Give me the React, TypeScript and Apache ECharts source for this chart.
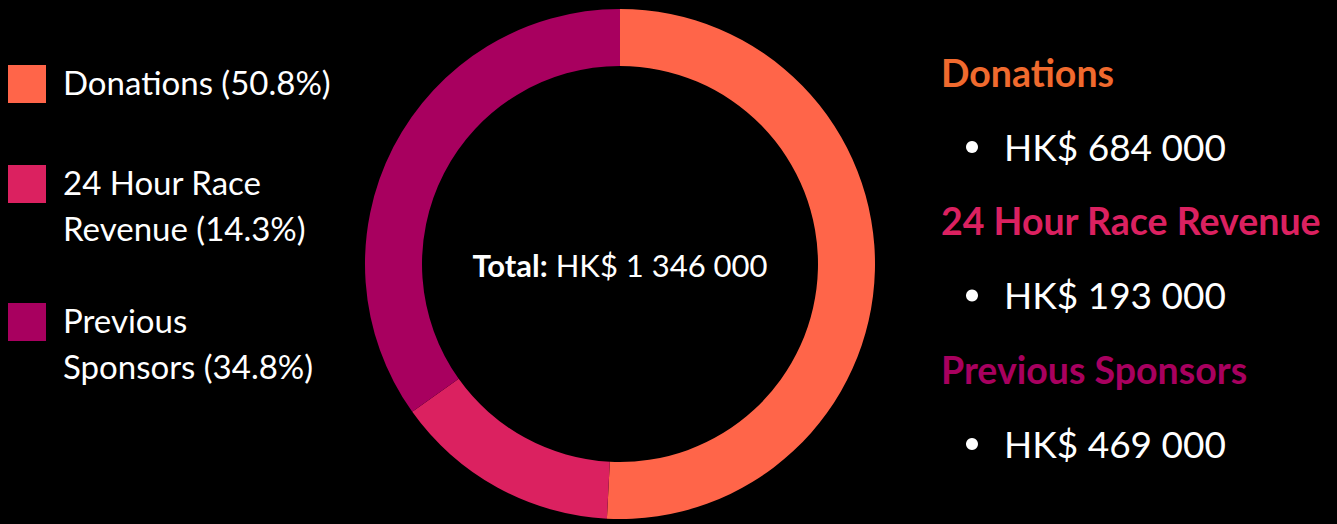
import React, { useEffect, useRef } from "react";
import * as echarts from "echarts";

const categories = ["Donations", "24 Hour Race Revenue", "Previous Sponsors"];
const legendLines = [["Donations (50.8%)"], ["24 Hour Race", "Revenue (14.3%)"], ["Previous", "Sponsors (34.8%)"]];
const values = [684000, 193000, 469000];
const amountLabels = ["HK$ 684 000", "HK$ 193 000", "HK$ 469 000"];
const totalLabel = "HK$ 1 346 000";
const sliceColors = ["#FF6549", "#DB2160", "#A8005F"];
const headingColors = ["#F06A2E", "#DB2160", "#A8005F"];

const FONT = "Lato, 'Noto Sans', sans-serif";

export default function App() {
  const ref = useRef<HTMLDivElement>(null);
  useEffect(() => {
    document.body.style.margin = "0";
    document.body.style.background = "#000";
    const chart = echarts.init(ref.current!, null, { renderer: "svg" });

    const squareCenters = [84, 184, 322];
    const graphics: any[] = [];
    categories.forEach((c, i) => {
      const cy = squareCenters[i];
      graphics.push({
        type: "rect",
        shape: { x: 8, y: cy - 19, width: 38, height: 38 },
        style: { fill: sliceColors[i] },
      });
      legendLines[i].forEach((line, j) => {
        graphics.push({
          type: "text",
          x: 63,
          y: cy - 2 + j * 46,
          style: {
            text: line,
            fill: "#fff",
            font: `400 33px ${FONT}`,
            verticalAlign: "middle",
            textAlign: "left",
          },
        });
      });
      // right side
      const headY = 72 + i * 148.5;
      graphics.push({
        type: "text",
        x: 941,
        y: headY,
        style: {
          text: c,
          fill: headingColors[i],
          font: `700 37.5px ${FONT}`,
          verticalAlign: "middle",
          textAlign: "left",
        },
      });
      graphics.push({
        type: "circle",
        shape: { cx: 972, cy: headY + 75, r: 6 },
        style: { fill: "#fff" },
      });
      graphics.push({
        type: "text",
        x: 1004,
        y: headY + 74,
        style: {
          text: amountLabels[i],
          fill: "#fff",
          font: `400 37px ${FONT}`,
          verticalAlign: "middle",
          textAlign: "left",
        },
      });
    });
    graphics.push({
      type: "text",
      x: 620,
      y: 265,
      style: {
        text: `{b|Total:}{r| ${totalLabel}}`,
        textAlign: "center",
        verticalAlign: "middle",
        rich: {
          b: { fontFamily: FONT, fontWeight: 700, fontSize: 31, fill: "#fff", color: "#fff" },
          r: { fontFamily: FONT, fontWeight: 400, fontSize: 31, fill: "#fff", color: "#fff" },
        },
        fill: "#fff",
      },
    });

    chart.setOption({
      animation: false,
      backgroundColor: "#000",
      graphic: graphics,
      series: [
        {
          type: "pie",
          center: [620, 264],
          radius: [198, 255],
          startAngle: 90,
          clockwise: true,
          silent: true,
          label: { show: false },
          labelLine: { show: false },
          itemStyle: { borderWidth: 0 },
          data: categories.map((c, i) => ({
            name: c,
            value: values[i],
            itemStyle: { color: sliceColors[i] },
          })),
        },
      ],
    });
    return () => chart.dispose();
  }, []);
  return <div ref={ref} style={{ width: 1337, height: 524, background: "#000" }} />;
}
